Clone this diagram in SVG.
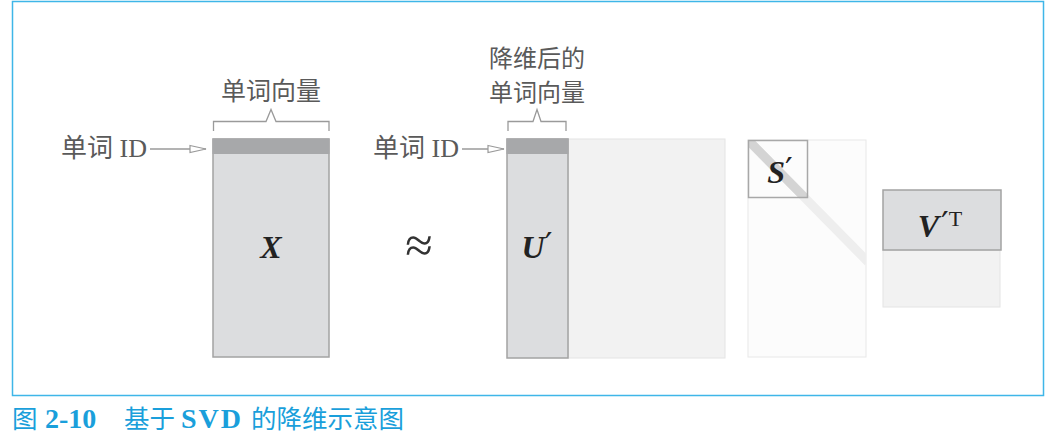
<svg xmlns="http://www.w3.org/2000/svg" width="1056" height="437" viewBox="0 0 1056 437">
<defs>
<style>
.lbl{font-family:"Noto Sans CJK SC","Liberation Serif",serif;font-size:25px;fill:#5a5a5a}
.lbl2{font-family:"Noto Sans CJK SC","Liberation Serif",serif;font-size:24px;fill:#5a5a5a}
.id{font-family:"Liberation Serif","Noto Sans CJK SC",serif;font-size:26px;fill:#5a5a5a}
.math{font-family:"Liberation Serif",serif;font-size:32px;font-weight:bold;font-style:italic;fill:#222}
.pr{font-family:"DejaVu Serif",serif;font-style:normal;font-weight:normal;font-size:34px}
.mat{fill:#dcdddf;stroke:#a3a3a3;stroke-width:1.5}
.band{fill:#a7a8aa}
.light{fill:#f2f2f2;stroke:#e4e4e4;stroke-width:1}
.brk{fill:none;stroke:#9a9a9a;stroke-width:1.3}
.arr{stroke:#9a9a9a;stroke-width:1.3;fill:none}
.cap{font-family:"Noto Sans CJK SC",sans-serif;font-size:25.5px;fill:#1a9fdb}
.capb{font-family:"Liberation Serif",serif;font-size:28px;font-weight:bold;fill:#1a9fdb}
</style>
<marker id="tri" markerWidth="18" markerHeight="10" refX="17" refY="5" orient="auto" markerUnits="userSpaceOnUse">
<path d="M1,1.5 L17,5 L1,8.5 Z" fill="#fff" stroke="#9a9a9a" stroke-width="1.2"/>
</marker>
<clipPath id="sc"><rect x="748" y="140" width="118" height="217"/></clipPath>
<clipPath id="sb"><rect x="748" y="140" width="60" height="58"/></clipPath>
</defs>
<rect x="0" y="0" width="1056" height="437" fill="#fff"/>
<rect x="12.5" y="1.5" width="1031" height="394" fill="none" stroke="#3fb6e8" stroke-width="1.5"/>

<g id="X">
<rect class="mat" x="213" y="139" width="116" height="218"/>
<rect class="band" x="212.5" y="138.5" width="117" height="15.5"/>
<text class="math" x="271" y="258" text-anchor="middle">X</text>
<path class="brk" d="M213.5,131 V121.5 H266 L271,109.5 L276,121.5 H329 V131"/>
<text class="lbl" x="271" y="100" text-anchor="middle">单词向量</text>
<text class="id" x="61" y="157">单词 ID</text>
</g>

<text id="approx" x="419" y="262" text-anchor="middle" font-family="Liberation Serif,serif" font-size="50" fill="#333">≈</text>

<g id="U">
<rect class="light" x="568" y="139" width="157" height="219"/>
<rect class="mat" x="507" y="139" width="61" height="219"/>
<rect class="band" x="506.5" y="138.5" width="62" height="15.5"/>
<text class="math" x="537" y="258" text-anchor="middle">U<tspan class="pr" dy="-1">′</tspan></text>
<path class="brk" d="M508,131 V121.5 H533 L537,109.5 L541,121.5 H566 V131"/>
<text class="lbl2" x="537" y="67" text-anchor="middle">降维后的</text>
<text class="lbl2" x="537" y="101" text-anchor="middle">单词向量</text>
<text class="id" x="373" y="157">单词 ID</text>
</g>

<g id="S">
<rect x="748" y="140" width="118" height="217" fill="#fcfcfc" stroke="#e8e8e8" stroke-width="1"/>
<line x1="748" y1="140" x2="868" y2="262" stroke="#eeeeee" stroke-width="9" clip-path="url(#sc)"/>
<line x1="748" y1="140" x2="868" y2="262" stroke="#d4d4d4" stroke-width="9" clip-path="url(#sb)"/>
<rect x="748.5" y="140.5" width="59" height="57" fill="none" stroke="#a8a8a8" stroke-width="1.5"/>
<text class="math" x="780" y="183" text-anchor="middle">S<tspan class="pr" dy="-1">′</tspan></text>
</g>

<g id="V">
<rect class="light" x="883" y="250" width="117" height="57"/>
<rect class="mat" x="883" y="190" width="118" height="60"/>
<text class="math" x="940" y="237" text-anchor="middle">V<tspan class="pr" dx="2" dy="-1">′</tspan><tspan font-style="normal" font-weight="normal" font-size="22" dy="-10">T</tspan></text>
</g>

<g id="connectors">
<line class="arr" x1="150" y1="149" x2="206" y2="149" marker-end="url(#tri)"/>
<line class="arr" x1="462" y1="149" x2="504" y2="149" marker-end="url(#tri)"/>
</g>

<g id="caption">
<text class="cap" x="12" y="428">图</text>
<text class="capb" x="45" y="428">2-10</text>
<text class="cap" x="124" y="428">基于</text>
<text class="capb" x="181" y="428" letter-spacing="2">SVD</text>
<text class="cap" x="251" y="428">的降维示意图</text>
</g>
</svg>
